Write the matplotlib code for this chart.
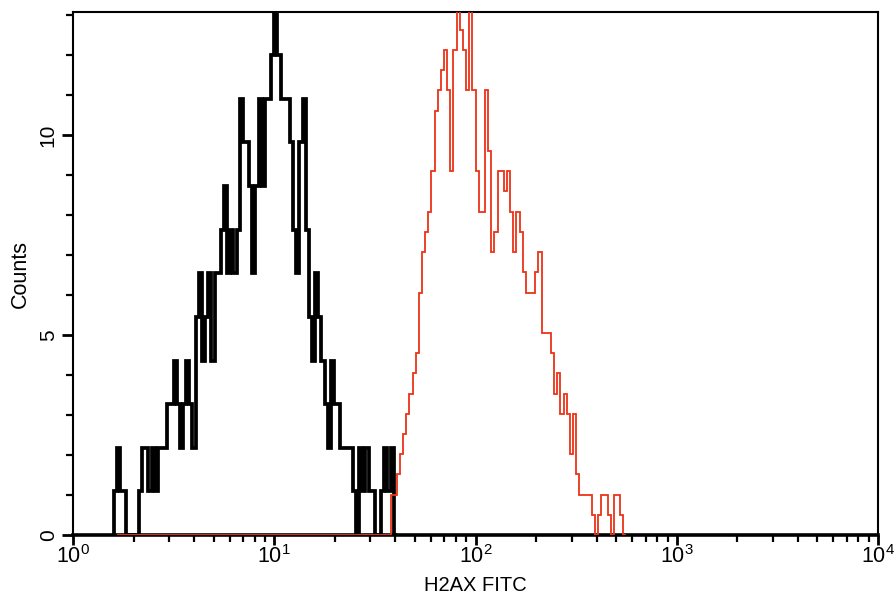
import numpy as np
import matplotlib
matplotlib.use('Agg')
import matplotlib.pyplot as plt
from matplotlib.ticker import FixedLocator, FixedFormatter, LogLocator, NullFormatter, MultipleLocator

plt.rcParams['font.family'] = ['Liberation Sans', 'DejaVu Sans']
plt.rcParams['mathtext.default'] = 'regular'

# --- acquisition: 256 log channels over 4 decades ---
n_channels = 256
decades = 4

# control (black), counts per channel starting at channel 13
black_start = 13
black_counts = [1, 2, 1, 1, 0, 0, 0, 0, 1, 2, 2, 1, 2, 1, 2, 2, 2, 3, 3, 4,
                3, 2, 3, 4, 3, 2, 5, 6, 4, 5, 6, 4, 6, 6, 7, 8, 6, 7, 6, 7,
                10, 9, 9, 8, 6, 8, 10, 8, 10, 10, 11, 12, 11, 10, 10, 10, 9, 7, 6, 9,
                10, 7, 5, 4, 6, 5, 4, 3, 2, 4, 3, 3, 2, 2, 2, 2, 1, 0, 2, 1,
                2, 1, 1, 0, 0, 1, 2, 1, 2, 0]
black_unit = 1.09

# irradiated (red), counts per channel starting at channel 101
red_zero_from = 14
red_start = 101
red_counts = [2, 2, 3, 4, 5, 6, 7, 8, 9, 12, 14, 15, 16, 18, 21, 22, 23, 24, 22, 18,
              24, 27, 25, 24, 22, 27, 22, 18, 16, 16, 22, 19, 14, 15, 18, 18, 17, 18, 16, 14,
              16, 15, 13, 12, 12, 12, 13, 14, 10, 10, 10, 9, 7, 8, 6, 7, 6, 4, 6, 3,
              2, 2, 2, 2, 1, 0, 1, 2, 2, 1, 0, 2, 2, 1, 0]
red_unit = 0.505

xticks = [1, 10, 100, 1000, 10000]
xtick_labels = ['$10^{0}$', '$10^{1}$', '$10^{2}$', '$10^{3}$', '$10^{4}$']
yticks = [0, 5, 10]

edges = 10 ** (decades * np.arange(n_channels + 1) / n_channels)

fig = plt.figure(figsize=(8.96, 6.0), dpi=100)
ax = fig.add_axes([73 / 896, 65 / 600, 805 / 896, 523 / 600])

b = np.array(black_counts) * black_unit
ax.stairs(b, edges[black_start:black_start + len(b) + 1], color='black', lw=2.7, zorder=3)

r = np.concatenate([np.zeros(red_start - red_zero_from), np.array(red_counts) * red_unit])
ax.stairs(r, edges[red_zero_from:red_zero_from + len(r) + 1], color='#eb3418', lw=1.3, zorder=4)

ax.set_xscale('log')
ax.set_xlim(1, 10000)
ax.set_ylim(0, 13.07)

ax.xaxis.set_major_locator(FixedLocator(xticks))
ax.xaxis.set_major_formatter(FixedFormatter(xtick_labels))
ax.xaxis.set_minor_locator(LogLocator(base=10, subs=np.arange(2, 10)))
ax.xaxis.set_minor_formatter(NullFormatter())
ax.yaxis.set_major_locator(FixedLocator(yticks))
ax.yaxis.set_minor_locator(MultipleLocator(1))

ax.tick_params(axis='x', which='major', direction='out', length=7, width=2, labelsize=15.5, pad=0)
ax.tick_params(axis='x', which='minor', direction='out', length=5, width=1.6)
ax.tick_params(axis='y', which='major', direction='out', length=8, width=2, labelsize=15, pad=3)
ax.tick_params(axis='y', which='minor', direction='out', length=5, width=1.6)
for lab in ax.get_yticklabels():
    lab.set_rotation(90)
    lab.set_va('center')

for side in ['top', 'right', 'left']:
    ax.spines[side].set_linewidth(1.5)
ax.spines['bottom'].set_linewidth(2.6)

ax.set_xlabel('H2AX FITC', fontsize=14.5, labelpad=6)
ax.set_ylabel('Counts', fontsize=15.5, labelpad=6)

fig.savefig('out.png', dpi=100)
